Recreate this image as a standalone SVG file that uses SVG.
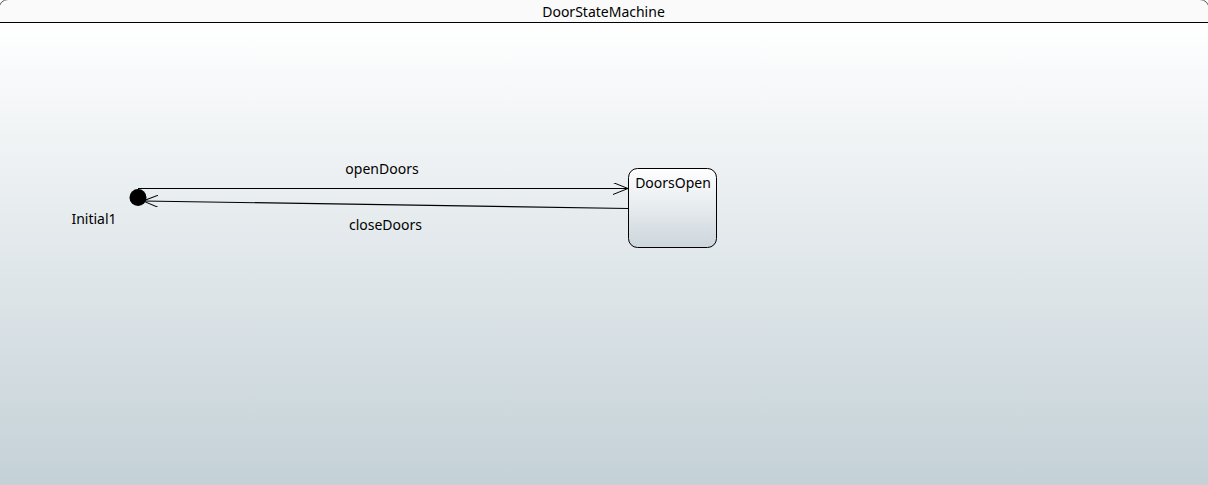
<svg xmlns="http://www.w3.org/2000/svg" width="1208" height="485" viewBox="0 0 1208 485">
<defs>
<linearGradient id="bg" x1="0" y1="0" x2="0" y2="1">
<stop offset="0" stop-color="#ffffff"/>
<stop offset="1" stop-color="#c4d1d7"/>
</linearGradient>
<linearGradient id="st" x1="0" y1="0" x2="0" y2="1">
<stop offset="0" stop-color="#ffffff"/>
<stop offset="1" stop-color="#ccd6dc"/>
</linearGradient>
<marker id="open" markerWidth="16" markerHeight="12" refX="15" refY="6" orient="auto" markerUnits="userSpaceOnUse">
<path d="M0,0 L15,6 L0,12" fill="none" stroke="#000" stroke-width="1"/>
</marker>
<style>
text { font-family: "Segoe UI", "Noto Sans", "Open Sans", sans-serif; font-size: 14px; fill: #000; }
.edge { fill: none; stroke: #000; stroke-width: 1.2; }
</style>
</defs>
<g id="frame">
<rect x="-1" y="-0.5" width="1210" height="500" rx="9" ry="9" fill="#fafafa" stroke="#555" stroke-width="1"/>
<rect x="0" y="22" width="1208" height="463" fill="url(#bg)"/>
<line x1="0" y1="22.5" x2="1208" y2="22.5" stroke="#000" stroke-width="1"/>
<text x="603.5" y="17" text-anchor="middle">DoorStateMachine</text>
</g>
<g id="connectors">
<path class="edge" d="M138,188.5 L628,188.5" marker-end="url(#open)"/>
<path class="edge" d="M628,208.5 L143,201" marker-end="url(#open)"/>
<text x="382" y="174" text-anchor="middle">openDoors</text>
<text x="385.5" y="230" text-anchor="middle">closeDoors</text>
</g>
<g id="Initial1">
<circle cx="138" cy="197.5" r="8.5" fill="#000"/>
<text x="94" y="224" text-anchor="middle">Initial1</text>
</g>
<g id="DoorsOpen">
<rect x="628.5" y="168.5" width="88" height="79" rx="9" ry="9" fill="url(#st)" stroke="#000" stroke-width="1"/>
<text x="673" y="188" text-anchor="middle">DoorsOpen</text>
</g>
</svg>
